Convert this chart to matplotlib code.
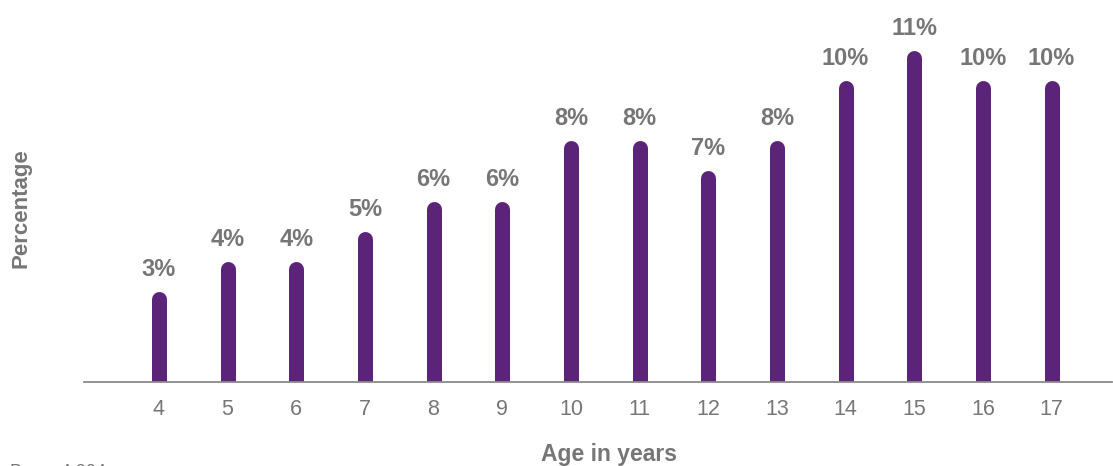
import matplotlib
matplotlib.use("Agg")
import matplotlib.pyplot as plt

# Share of children by age
ages = [4, 5, 6, 7, 8, 9, 10, 11, 12, 13, 14, 15, 16, 17]
pct = [3, 4, 4, 5, 6, 6, 8, 8, 7, 8, 10, 11, 10, 10]
tick_labels = [str(a) for a in ages]

purple = '#5c2479'
grey = '#767676'

plt.rcParams['font.family'] = ['Liberation Sans', 'DejaVu Sans']

W, H = 1113, 466
fig = plt.figure(figsize=(W / 100, H / 100), dpi=100)
ax = fig.add_axes([84 / W, 84 / H, (1112 - 84) / W, (382 - 20) / H])
ax.set_xlim(2.91, 17.88)
ax.set_ylim(0, 12)

# bar width in pixels -> line width in points; the round cap sticks out by half of it
bar_px = 15
r_data = (bar_px / 2) * 12 / (382 - 20)
for a, p in zip(ages, pct):
    ax.plot([a, a], [0, p - r_data], color=purple, lw=bar_px * 72 / 100,
            solid_capstyle='round', zorder=2)
    ax.annotate(f'{p}%', (a, p), xytext=(0, 7.5), textcoords='offset points',
                ha='center', va='bottom', fontsize=17, fontweight='bold', color=grey)

for s in ['top', 'right', 'left']:
    ax.spines[s].set_visible(False)
ax.spines['bottom'].set_color('#8a8a8a')
ax.spines['bottom'].set_linewidth(1.3)
ax.spines['bottom'].set_zorder(3)
ax.set_yticks([])
ax.set_xticks(ages)
ax.set_xticklabels(tick_labels)
ax.tick_params(axis='x', length=0, pad=12, labelsize=15.5, labelcolor=grey)

fig.text(609 / W, 1 - 455 / H, 'Age in years', ha='center', va='center',
         fontsize=16.5, fontweight='bold', color=grey)
fig.text(21 / W, 1 - 208 / H, 'Percentage', ha='center', va='center', rotation=90,
         fontsize=16, fontweight='bold', color=grey)
fig.text(10 / W, 1 - 472 / H, 'Base: 4,204', ha='left', va='center',
         fontsize=13, color=grey)

fig.savefig('out.png', dpi=100)
